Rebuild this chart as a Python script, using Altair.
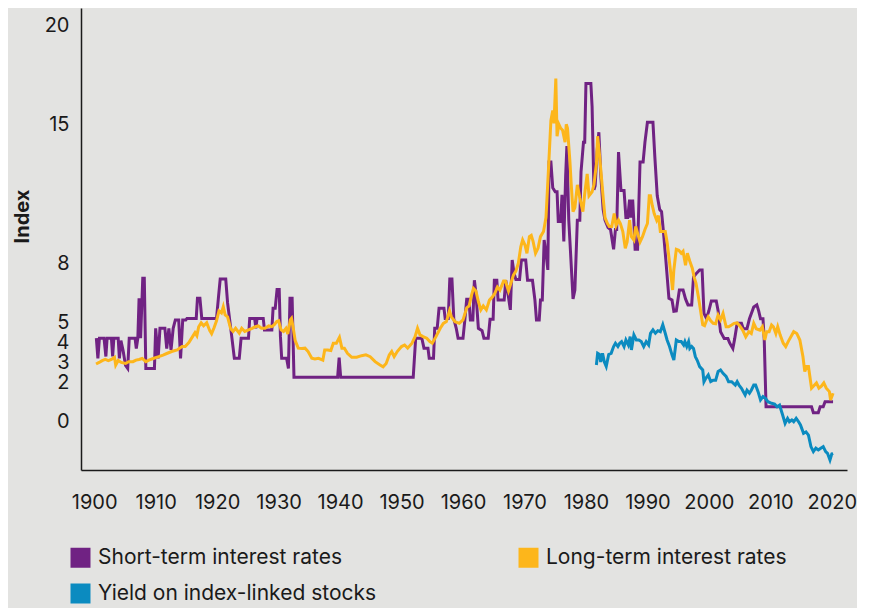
import altair as alt
import pandas as pd

# ---- data ----
short_years = [1900.35, 1900.6, 1900.85, 1901.6, 1901.9, 1902.1, 1902.8, 1903.0, 1903.2, 1903.9,
               1904.1, 1904.35, 1904.7, 1905.1, 1905.45, 1905.7, 1906.65, 1906.85,
               1907.1, 1907.3, 1907.55, 1907.9, 1908.15, 1908.4, 1909.8, 1910.0, 1910.4, 1910.7,
               1911.5, 1911.8, 1912.15, 1912.5, 1912.85, 1913.2, 1913.75, 1914.05, 1914.4,
               1914.9, 1915.1, 1916.6, 1916.8, 1917.2, 1917.5, 1919.9, 1920.2, 1920.5, 1921.4,
               1921.7, 1922.3, 1922.8, 1923.6, 1923.9, 1925.1, 1925.3, 1926.1, 1926.3, 1926.5,
               1927.5, 1927.7, 1928.9, 1929.1, 1929.45, 1929.75, 1930.1, 1930.3, 1930.5, 1931.3,
               1931.6, 1931.85, 1932.2, 1932.5, 1939.6, 1939.85, 1940.1, 1951.9, 1952.3, 1953.3,
               1953.65, 1954.3, 1954.5, 1955.2, 1955.4, 1955.8, 1956.1, 1956.9, 1957.1, 1957.6,
               1957.85, 1958.2, 1958.5, 1958.9, 1959.2, 1960.0, 1960.3, 1960.6, 1960.95, 1961.2,
               1961.6, 1961.85, 1962.1, 1962.5, 1963.1, 1963.4, 1964.1, 1964.4, 1964.9, 1965.1,
               1965.5, 1965.7, 1966.7, 1966.95, 1967.3, 1967.7, 1968.0, 1968.3, 1968.6, 1969.2,
               1969.5, 1970.2, 1970.5, 1971.3, 1971.7, 1971.95, 1972.4, 1972.6, 1972.9, 1973.2,
               1973.5, 1973.8, 1974.0, 1974.3, 1974.6, 1975.0, 1975.3, 1975.5, 1975.9, 1976.1,
               1976.4, 1976.7, 1976.9, 1977.2, 1977.5, 1977.9, 1978.2, 1978.6, 1979.0, 1979.2,
               1979.6, 1979.8, 1980.0, 1980.8, 1981.0, 1981.3, 1981.5, 1981.8, 1982.1, 1982.4,
               1982.8, 1983.1, 1983.6, 1984.0, 1984.5, 1984.8, 1985.0, 1985.3, 1985.7, 1986.2,
               1986.5, 1986.8, 1987.1, 1987.3, 1987.6, 1987.8, 1988.0, 1988.4, 1988.8, 1989.3,
               1989.6, 1990.0, 1990.9, 1991.2, 1991.6, 1992.0, 1992.3, 1992.6, 1993.0, 1993.5,
               1994.0, 1994.3, 1994.7, 1995.2, 1995.8, 1996.2, 1996.6, 1997.2, 1997.5, 1998.0,
               1998.5, 1998.9, 1999.2, 1999.6, 2000.0, 2000.4, 2001.2, 2001.5, 2001.9, 2002.5,
               2003.1, 2003.4, 2003.9, 2004.2, 2004.6, 2005.3, 2005.6, 2006.2, 2006.6, 2007.3,
               2007.8, 2008.1, 2008.4, 2008.8, 2009.0, 2009.3, 2016.7, 2017.0, 2017.8, 2018.1,
               2018.6, 2018.9, 2020.2]
short_vals = [4.22, 3.2, 4.22, 4.22, 3.3, 4.22, 4.22, 3.3, 4.22, 4.22,
              3.2, 4.1, 3.6, 2.85, 2.7, 4.22, 4.22, 3.7,
              4.22, 6.23, 4.22, 7.24, 7.24, 2.7, 2.7, 4.72, 3.2, 4.72,
              4.72, 3.7, 4.72, 3.63, 4.72, 5.14, 5.14, 3.2, 5.14,
              5.14, 5.22, 5.22, 6.23, 6.23, 5.22, 5.22, 6.23, 7.2, 7.2,
              6.0, 4.5, 3.21, 3.21, 4.22, 4.22, 5.22, 5.22, 4.72, 5.22,
              5.22, 4.64, 4.64, 5.73, 5.73, 6.68, 6.68, 4.3, 3.21, 3.21,
              2.7, 6.23, 6.23, 2.25, 2.25, 3.24, 2.25, 2.25, 4.22, 4.22,
              3.72, 3.72, 3.21, 3.21, 4.72, 4.72, 5.73, 5.73, 5.22, 5.22,
              7.2, 7.2, 5.2, 4.72, 4.22, 4.22, 5.14, 6.18, 6.18, 5.14,
              5.14, 7.14, 6.5, 4.72, 4.6, 4.22, 4.22, 5.17, 5.17, 7.14,
              7.14, 6.14, 6.14, 7.14, 6.5, 5.65, 8.16, 7.5, 7.18, 7.18,
              8.16, 8.16, 7.14, 7.14, 6.14, 5.14, 5.14, 6.14, 6.14, 9.17,
              8.5, 7.66, 13.1, 13.1, 11.8, 11.6, 11.6, 10.1, 10.1, 11.45,
              9.1, 12.4, 13.9, 10.2, 8.5, 6.2, 6.65, 10.17, 10.17, 12.6,
              14.1, 14.1, 17.06, 17.06, 15.9, 11.7, 11.9, 13.6, 14.6, 12.5,
              10.7, 10.17, 9.8, 9.7, 8.7, 9.7, 9.7, 13.6, 11.66, 11.66,
              10.3, 10.3, 11.2, 10.3, 11.2, 10.06, 8.7, 8.7, 13.1, 13.1,
              14.1, 15.1, 15.1, 13.4, 11.4, 10.7, 10.6, 9.6, 8.16, 6.23,
              6.15, 5.58, 5.6, 6.65, 6.65, 6.2, 5.9, 5.9, 7.3, 7.5,
              7.66, 7.66, 5.47, 5.22, 5.6, 6.1, 6.1, 5.6, 4.55, 4.2,
              4.2, 3.97, 3.7, 4.2, 4.97, 4.97, 4.7, 4.7, 5.2, 5.8,
              5.9, 5.6, 5.2, 5.2, 4.2, 0.77, 0.77, 0.47, 0.47, 0.77,
              0.77, 1.02, 1.02]

long_years = [1900.3, 1900.8, 1901.3, 1901.8, 1902.3, 1902.8, 1903.3, 1903.5, 1903.9, 1904.4,
              1905.1, 1905.6, 1906.3, 1906.8, 1907.3, 1907.8, 1908.4, 1908.9, 1909.6, 1910.5,
              1911.2, 1911.8, 1912.6, 1913.5, 1914.3, 1914.8, 1915.4, 1916.0, 1916.4, 1916.7,
              1917.0, 1917.4, 1917.8, 1918.3, 1918.8, 1919.1, 1919.5, 1919.9, 1920.3, 1920.7,
              1921.0, 1921.3, 1921.7, 1922.2, 1922.6, 1923.0, 1923.6, 1924.0, 1924.5, 1925.1,
              1925.7, 1926.2, 1926.7, 1927.2, 1927.8, 1928.4, 1928.9, 1929.3, 1929.7, 1930.0,
              1930.4, 1930.8, 1931.2, 1931.5, 1931.9, 1932.1, 1932.4, 1932.7, 1933.2, 1933.8,
              1934.3, 1934.8, 1935.4, 1935.9, 1936.5, 1937.2, 1937.5, 1938.0, 1938.5, 1938.9,
              1939.4, 1939.9, 1940.3, 1940.7, 1941.2, 1941.9, 1942.7, 1943.5, 1944.2, 1944.9,
              1945.7, 1946.5, 1947.0, 1947.5, 1948.0, 1948.4, 1948.8, 1949.3, 1950.0, 1950.5,
              1951.0, 1951.7, 1952.2, 1952.6, 1953.0, 1953.5, 1954.1, 1954.6, 1955.0, 1955.6,
              1956.3, 1956.8, 1957.3, 1957.8, 1958.1, 1958.7, 1959.4, 1960.0, 1960.6, 1961.0,
              1961.4, 1961.7, 1962.1, 1962.5, 1962.9, 1963.3, 1963.8, 1964.3, 1964.8, 1965.2,
              1965.6, 1966.0, 1966.6, 1966.9, 1967.4, 1967.8, 1968.2, 1968.6, 1969.0, 1969.4,
              1969.7, 1970.1, 1970.4, 1970.8, 1971.1, 1971.4, 1971.8, 1972.2, 1972.6, 1973.1,
              1973.5, 1973.9, 1974.3, 1974.6, 1974.8, 1975.1, 1975.3, 1975.6, 1975.9, 1976.2,
              1976.6, 1976.8, 1977.0, 1977.4, 1977.6, 1977.9, 1978.2, 1978.6, 1979.0, 1979.5,
              1979.8, 1980.2, 1980.5, 1981.0, 1981.3, 1981.7, 1981.9, 1982.2, 1982.5, 1982.8,
              1983.1, 1983.5, 1983.8, 1984.2, 1984.6, 1984.9, 1985.3, 1985.6, 1986.0, 1986.4,
              1986.7, 1987.1, 1987.4, 1987.8, 1988.1, 1988.5, 1988.8, 1989.2, 1989.6, 1990.0,
              1990.3, 1990.5, 1990.8, 1991.1, 1991.5, 1991.8, 1992.1, 1992.5, 1992.9, 1993.2,
              1993.5, 1993.8, 1994.1, 1994.3, 1994.7, 1995.1, 1995.5, 1995.8, 1996.2, 1996.5,
              1996.9, 1997.3, 1997.6, 1997.9, 1998.3, 1998.7, 1999.0, 1999.3, 1999.6, 1999.9,
              2000.3, 2000.7, 2001.1, 2001.5, 2001.9, 2002.3, 2002.8, 2003.2, 2003.7, 2004.1,
              2004.6, 2005.0, 2005.5, 2006.0, 2006.5, 2006.9, 2007.3, 2007.7, 2008.3, 2008.7,
              2009.1, 2009.4, 2009.8, 2010.2, 2010.5, 2010.9, 2011.2, 2011.6, 2012.1, 2012.5,
              2012.9, 2013.5, 2013.8, 2014.3, 2014.8, 2015.3, 2015.6, 2015.9, 2016.2, 2016.7,
              2017.0, 2017.5, 2017.9, 2018.3, 2018.7, 2019.1, 2019.6, 2019.8, 2020.2]
long_vals = [2.92, 3.0, 3.09, 3.15, 3.09, 3.15, 3.26, 2.87, 3.1, 3.0,
             2.95, 3.04, 3.04, 3.12, 3.15, 3.2, 3.04, 3.12, 3.2, 3.29,
             3.37, 3.45, 3.55, 3.63, 3.8, 3.8, 4.0, 4.3, 4.5, 4.35,
             4.8, 5.0, 4.85, 5.0, 4.6, 4.45, 4.75, 5.1, 5.6, 5.5,
             5.81, 5.4, 5.3, 4.7, 4.56, 4.72, 4.47, 4.72, 4.56, 4.64,
             4.72, 4.8, 4.84, 4.72, 4.72, 4.84, 4.8, 4.9, 5.06, 5.1,
             4.64, 4.56, 4.72, 4.43, 5.14, 5.22, 4.7, 4.1, 3.72, 3.7,
             3.72, 3.55, 3.21, 3.17, 3.21, 3.12, 3.63, 3.63, 3.6, 3.97,
             3.97, 4.27, 3.72, 3.72, 3.46, 3.26, 3.26, 3.34, 3.38, 3.29,
             3.04, 2.87, 2.78, 2.95, 3.38, 3.55, 3.29, 3.55, 3.8, 3.88,
             3.72, 3.97, 4.3, 4.72, 4.39, 4.3, 4.22, 4.05, 3.97, 4.3,
             4.72, 4.97, 5.06, 5.6, 5.3, 5.05, 4.97, 5.14, 5.75, 5.85,
             6.4, 6.73, 6.6, 6.07, 5.65, 5.85, 5.65, 6.14, 6.31, 6.5,
             6.8, 6.65, 7.1, 7.1, 6.6, 7.0, 7.4, 7.6, 8.0, 8.83,
             9.17, 8.9, 8.5, 9.34, 9.4, 9.1, 8.5, 8.75, 9.34, 9.6,
             10.3, 12.7, 15.2, 15.7, 15.05, 17.3, 14.4, 15.0, 14.8, 14.7,
             14.1, 15.0, 14.8, 13.1, 12.0, 10.6, 10.8, 11.95, 11.3, 10.6,
             11.5, 12.5, 11.4, 11.6, 11.95, 13.0, 14.4, 13.5, 12.4, 11.3,
             10.3, 10.0, 9.85, 9.85, 10.5, 9.9, 10.17, 10.0, 9.6, 8.75,
             9.07, 10.17, 9.34, 9.17, 9.85, 9.4, 9.07, 9.34, 9.7, 10.0,
             11.4, 11.4, 10.9, 10.5, 10.17, 10.4, 9.6, 9.6, 9.6, 9.07,
             8.3, 7.5, 6.65, 7.66, 8.7, 8.65, 8.5, 8.6, 7.9, 8.5,
             8.1, 7.75, 7.3, 7.0, 6.3, 5.5, 4.9, 4.85, 5.1, 5.3,
             5.1, 4.97, 4.95, 5.39, 5.15, 5.47, 4.8, 4.8, 4.89, 4.97,
             4.99, 4.85, 4.63, 4.29, 4.55, 4.46, 4.97, 4.7, 4.63, 4.8,
             4.13, 4.55, 4.55, 4.89, 4.8, 4.46, 4.8, 4.38, 3.97, 3.8,
             4.05, 4.38, 4.55, 4.46, 4.13, 3.3, 2.54, 2.79, 2.79, 1.7,
             1.8, 1.97, 1.7, 1.8, 1.97, 1.7, 1.53, 1.11, 1.45]

linked_years = [1981.7, 1981.9, 1982.2, 1982.4, 1982.7, 1983.0, 1983.3, 1983.7, 1984.1, 1984.5,
                1984.8, 1985.2, 1985.5, 1985.8, 1986.2, 1986.5, 1986.9, 1987.2, 1987.4, 1987.8,
                1988.2, 1988.6, 1989.0, 1989.4, 1989.8, 1990.2, 1990.5, 1990.9, 1991.3, 1991.7,
                1992.1, 1992.5, 1992.9, 1993.2, 1993.6, 1994.0, 1994.3, 1994.7, 1995.1, 1995.5,
                1995.9, 1996.1, 1996.4, 1996.7, 1996.9, 1997.2, 1997.5, 1997.8, 1998.1, 1998.5,
                1999.0, 1999.2, 1999.5, 1999.9, 2000.3, 2000.7, 2001.1, 2001.5, 2001.9, 2002.3,
                2002.8, 2003.2, 2003.7, 2004.3, 2004.6, 2004.9, 2005.3, 2005.9, 2006.2, 2006.6,
                2006.9, 2007.3, 2007.6, 2008.0, 2008.4, 2008.8, 2009.2, 2009.6, 2010.2, 2010.7,
                2011.1, 2011.5, 2012.0, 2012.4, 2012.8, 2013.1, 2013.5, 2013.8, 2014.2, 2014.6,
                2014.9, 2015.4, 2015.8, 2016.2, 2016.6, 2017.0, 2017.4, 2017.8, 2018.2, 2018.6,
                2019.0, 2019.3, 2019.7, 2020.0, 2020.2]
linked_vals = [2.87, 3.46, 3.4, 3.02, 3.46, 3.02, 2.8, 3.4, 3.46, 3.8,
               3.97, 3.8, 3.97, 4.05, 3.8, 4.13, 3.88, 4.3, 3.63, 4.39,
               4.13, 4.13, 4.05, 3.8, 4.05, 3.88, 4.47, 4.64, 4.47, 4.6,
               4.55, 4.9, 4.47, 4.13, 3.8, 3.38, 3.12, 4.13, 4.05, 4.05,
               3.88, 4.05, 3.8, 4.05, 3.7, 3.8, 3.7, 3.29, 3.11, 2.79,
               2.62, 2.03, 2.2, 2.37, 2.03, 2.1, 2.1, 2.54, 2.62, 2.45,
               2.3, 2.03, 2.03, 1.86, 2.03, 1.86, 1.7, 1.36, 1.6, 1.45,
               1.6, 1.86, 1.86, 1.53, 1.11, 1.28, 1.19, 1.02, 0.94, 0.9,
               0.77, 0.85, 0.35, -0.07, 0.18, 0.01, 0.1, 0.01, 0.18, 0.01,
               -0.15, -0.57, -0.5, -0.66, -1.24, -1.49, -1.32, -1.41, -1.32, -1.24,
               -1.49, -1.58, -1.92, -1.61, -1.58]

series_names = ["Short-term interest rates", "Long-term interest rates",
                "Yield on index-linked stocks"]
series_colors = ["#702283", "#fdb61b", "#0b8bc0"]
y_tick_values = [0, 2, 3, 4, 5, 8, 15, 20]
x_tick_values = [1900, 1910, 1920, 1930, 1940, 1950, 1960, 1970, 1980, 1990, 2000, 2010, 2020]

rows = []
for name, ys, vs in zip(series_names,
                        [short_years, long_years, linked_years],
                        [short_vals, long_vals, linked_vals]):
    for i, (yr, v) in enumerate(zip(ys, vs)):
        rows.append({"year": yr, "value": v, "series": name, "idx": i})
df = pd.DataFrame(rows)

FONT = "Inter"
INK = "#1a1a1a"

x_enc = alt.X("year:Q",
              scale=alt.Scale(domain=[1897.853, 2022.47], nice=False, zero=False),
              axis=alt.Axis(values=x_tick_values, format="d", ticks=False, grid=False,
                            labelFontSize=20, labelFont=FONT, labelColor=INK,
                            labelPadding=22, labelOverlap=False, labelFlush=False,
                            domainColor=INK, domainWidth=1.5, title=None))
y_enc = alt.Y("value:Q",
              scale=alt.Scale(domain=[-2.42, 20.86], nice=False, zero=False),
              axis=alt.Axis(values=y_tick_values, ticks=False, grid=False,
                            labelFontSize=20, labelFont=FONT, labelColor=INK,
                            labelPadding=12, labelOverlap=False, labelFlush=False,
                            domainColor=INK, domainWidth=1.5,
                            title="Index", titleFont=FONT, titleFontSize=20,
                            titleFontWeight="bold", titleColor=INK,
                            titleX=-59, titleY=208, titleAngle=270,
                            titleAlign="center", titleBaseline="middle"))
# square swatches: a 10px square outlined by a 10px stroke reads as a solid 20px block
color_enc = alt.Color("series:N",
                      scale=alt.Scale(domain=series_names, range=series_colors),
                      legend=alt.Legend(title=None, orient="none", legendX=-11, legendY=539,
                                        direction="horizontal",
                                        columns=2, columnPadding=126, rowPadding=-17,
                                        symbolType="square", symbolSize=100,
                                        symbolStrokeWidth=10, labelFontSize=21,
                                        labelFont=FONT, labelColor=INK, labelOffset=7,
                                        labelLimit=400, padding=0))

base = alt.Chart(df).encode(x=x_enc, y=y_enc, color=color_enc, order=alt.Order("idx:Q"))

layers = [base.transform_filter(alt.datum.series == s).mark_line(strokeWidth=3)
          for s in series_names]

chart = alt.layer(*layers).properties(
    width=766, height=462,
    autosize=alt.AutoSizeParams(type="none"),
    padding={"left": 73, "top": 0, "right": 10, "bottom": 170},
    background="#e3e3e1",
).configure_view(stroke=None)

chart.save("out.html", embed_options={"renderer": "svg", "actions": False})
